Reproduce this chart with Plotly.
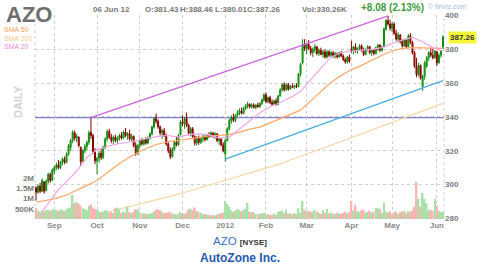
import plotly.graph_objects as go
import pandas as pd

# ---------------- data ----------------
holidays = ["2011-09-05", "2011-11-24", "2011-12-26", "2012-01-02", "2012-01-16",
            "2012-02-20", "2012-04-06", "2012-05-28"]
trading_days = [d.strftime("%Y-%m-%d") for d in pd.bdate_range("2011-08-19", "2012-06-06")
                if d.strftime("%Y-%m-%d") not in holidays]

open_ = [298, 295.5, 299, 296, 301.5, 296.5, 302, 306, 302.5, 308,
         310, 311.5, 310, 313.5, 315, 313, 318, 322, 326, 330.5,
         327.5, 328, 322, 314, 320, 322.5, 325, 331, 329, 319.5,
         314, 315.5, 318.5, 316, 322, 327, 331.5, 328, 326, 328,
         326, 327.5, 329, 327.5, 331, 329, 330, 327, 328.5, 323,
         318.5, 323, 326, 324, 326.5, 324.5, 327.5, 330, 334, 339,
         337.5, 334, 330.5, 332, 329, 324, 320, 316.5, 321, 325,
         323.5, 329.5, 337, 336, 339, 335, 330.5, 333, 328.5, 324.5,
         327.5, 325, 327, 328.5, 326.5, 329.5, 328.5, 330.5, 329, 330,
         326, 327, 323.5, 318, 326, 333, 338, 339.5, 338, 341,
         342.5, 343.5, 342, 345, 346.5, 347.5, 346, 347, 345.5, 347,
         346, 348, 350, 353, 349, 351.5, 348.5, 347.5, 349.5, 347.5,
         352.5, 356, 359, 356, 359, 356.5, 358, 357.5, 358.5, 358,
         365.5, 372, 383, 380.5, 383, 380.5, 378, 380, 381.5, 377.5,
         379.5, 377, 378.5, 375.5, 378.5, 376.5, 378, 376, 377.5, 375.5,
         378, 376, 374, 372.5, 375.5, 380, 379, 381.5, 379, 380.5,
         382, 379.5, 377, 380, 381.5, 378, 379.5, 377.5, 381, 382.5,
         379.5, 381.5, 392, 397, 395, 392.5, 395, 389.5, 386, 388.5,
         384.5, 382, 385.5, 381.5, 388, 384, 378, 370, 365, 370.5,
         358, 364, 370, 375, 378, 376.5, 375, 378.5, 372, 376.5,
         381.43]
high = [299, 300, 301, 303.5, 302, 303, 307, 307, 309.5, 311,
        313, 314.5, 314, 316, 316.5, 319, 324, 327, 332, 332,
        330, 328.5, 322.5, 321, 324, 326, 332, 339.6, 330, 321.5,
        316.5, 320, 321, 323, 328, 332.5, 333, 330, 329, 329.5,
        328.5, 330, 331, 332, 333.5, 331, 332.5, 330, 329, 325,
        324, 327, 327.5, 327, 328, 328.5, 331, 335, 340, 342,
        338.5, 335, 333, 333.5, 330, 325, 322, 322, 326, 328.5,
        330, 338, 341, 340, 342.6, 336, 334, 334, 329, 328.5,
        329, 328, 329.5, 329, 330, 331, 331.5, 331, 331, 330.5,
        328, 327.5, 325, 327, 334, 339, 341, 342, 341.5, 344,
        345, 345.5, 346, 347.5, 349, 348, 348, 348, 347.5, 348.5,
        348.5, 351, 354, 354.5, 352, 352.5, 350.5, 350, 351, 353,
        357, 360, 360.5, 360, 360, 359, 360, 359, 360, 366,
        372, 386, 386, 384, 385.5, 382, 381, 383, 382, 380.5,
        381, 379.5, 380, 379.5, 379.5, 379, 379, 378.5, 378, 378.5,
        379, 377, 375, 376, 377, 385, 382, 383.5, 381, 383,
        383, 381, 380.5, 382.5, 382, 380, 380, 381.5, 383, 383,
        382, 393, 398, 399.8, 397.5, 396, 396, 391.5, 390, 389,
        386, 386.5, 386, 389, 389.5, 385, 379, 375, 372, 371,
        365, 373, 376, 379, 381, 380.5, 379.5, 379, 377.5, 379.5,
        388.46]
low = [290.5, 294.5, 295, 295.5, 294.5, 296, 300.5, 301, 302, 306,
       308.5, 309, 309, 311.5, 312, 312.5, 317, 320, 324.5, 326,
       325, 322, 311, 313, 318.5, 320, 323.5, 327, 318, 312,
       306, 313, 314.5, 315, 321, 325.5, 327, 324.5, 324, 325,
       324, 326, 326.5, 327, 328, 326.5, 326, 325.5, 322, 317,
       317.5, 321.5, 323, 323, 323.5, 324, 326.5, 329, 333, 336,
       333, 329, 327, 328, 323, 318.5, 315, 316, 320, 322.5,
       323, 329, 334.5, 333, 334, 329, 328.5, 327.5, 323, 323,
       323.5, 324, 325, 325.5, 326, 327.5, 328, 327.5, 327, 325,
       323.5, 322.5, 319, 313.5, 325.5, 332, 336, 337, 337, 340,
       341, 341.5, 341.5, 344, 345, 345, 345, 345, 344.5, 345.5,
       345.5, 347, 349, 348, 348, 347.5, 346.5, 347, 346.5, 347,
       352, 355, 355, 355.5, 355.5, 356, 357, 356.5, 357, 357.5,
       364, 371, 379, 377, 379.5, 376.5, 375.5, 378, 376.5, 376,
       376.5, 375, 374.5, 374.5, 375.5, 375, 375, 374.5, 374.5, 375,
       375.5, 373, 371.5, 371.5, 372, 378, 377, 378, 377.5, 379.5,
       378.5, 376, 376.5, 379, 377, 376, 376.5, 377, 379, 378.5,
       378.5, 381, 391, 394, 391, 390, 388.5, 385, 384, 383.5,
       381, 381.5, 380.5, 381, 383, 377, 369, 363.5, 364, 362,
       355.5, 362, 369, 373, 375.5, 374, 374.5, 370, 371.5, 375,
       380.01]
close = [295.5, 299, 296, 302.5, 296, 302, 306, 302.5, 308.5, 310,
         311.5, 310, 313.5, 315, 313, 318, 323, 326, 331, 327.5,
         328.5, 323, 313.5, 320, 322.5, 325, 330.5, 329, 319.5, 314,
         315.5, 318.5, 316, 322, 327, 331.5, 328, 326, 328, 326,
         327.5, 329, 327.5, 331, 329, 330, 327, 328.5, 323, 318.5,
         323, 326, 324, 326.5, 324.5, 327.5, 330, 334, 339, 337.5,
         334, 330.5, 332, 329, 324, 320, 316.5, 321, 325, 323.5,
         329, 337, 336, 339, 335, 330.5, 333, 328.5, 324.5, 327.5,
         325, 327, 328.5, 326.5, 329.5, 328.5, 330.5, 329, 330, 326,
         327, 323.5, 320, 326, 333, 338, 339.5, 338, 341, 342.5,
         343.5, 342, 345, 346.5, 347.5, 346, 347, 345.5, 347, 346,
         348, 350, 353, 349, 351.5, 348.5, 347.5, 349.5, 347.5, 352.5,
         356, 359, 356, 359, 356.5, 358, 357.5, 358.5, 358, 365.5,
         371, 383, 380.5, 383, 380.5, 378, 380, 381.5, 377.5, 379.5,
         377, 378.5, 375.5, 378.5, 376.5, 378, 376, 377.5, 375.5, 378,
         376, 374, 372.5, 375.5, 373, 379, 381.5, 379, 380.5, 382,
         379.5, 377, 380, 381.5, 378, 379.5, 377.5, 381, 382.5, 379.5,
         381.5, 392, 397, 395, 392.5, 395, 389.5, 386, 388.5, 384.5,
         382, 385.5, 381.5, 388, 384, 378, 370, 365, 370.5, 363,
         364, 372, 375, 378, 376.5, 375, 379, 372, 376.5, 379.18,
         387.26]
volume_k = [530, 400, 350, 420, 380, 430, 450, 400, 440, 460,
            430, 390, 440, 460, 380, 470, 520, 560, 1170, 780,
            820, 760, 650, 520, 480, 430, 650, 720, 560, 480,
            450, 380, 330, 360, 420, 400, 310, 340, 300, 520,
            560, 480, 300, 350, 310, 600, 330, 290, 350, 480,
            470, 350, 260, 280, 240, 260, 250, 300, 380, 450,
            480, 420, 350, 280, 300, 320, 350, 260, 240, 220,
            250, 330, 280, 260, 300, 450, 500, 420, 560, 380,
            350, 300, 260, 240, 220, 200, 180, 200, 170, 220,
            250, 280, 300, 880, 750, 600, 420, 350, 400, 480,
            450, 380, 420, 500, 780, 350, 330, 320, 250, 240,
            260, 280, 300, 220, 230, 200, 210, 260, 200, 350,
            380, 400, 300, 460, 250, 270, 220, 290, 250, 520,
            300, 870, 450, 400, 380, 360, 330, 420, 360, 300,
            260, 420, 300, 500, 280, 320, 260, 240, 300, 280,
            250, 300, 350, 280, 330, 870, 420, 700, 380, 350,
            420, 450, 300, 350, 400, 320, 350, 550, 520, 480,
            300, 800, 350, 300, 380, 250, 330, 360, 260, 330,
            380, 400, 300, 380, 350, 420, 600, 1800, 970, 600,
            1270, 970, 770, 420, 450, 400, 970, 650, 400, 350,
            330.26]

# moving averages read every 5th trading day
sma_dates = trading_days[::5]
sma50 = [289.5, 290.5, 291.8, 293.8, 296.5, 299.5, 302.4, 307, 311.5, 315.5,
         319, 321.8, 324, 325.3, 326, 326.8, 327.8, 328.8, 329, 329.5,
         331, 332.8, 334, 336.5, 339, 341.5, 344, 349.5, 355, 360.5,
         364.5, 368, 370.5, 373.5, 376.5, 379, 380.5, 381, 381, 380.7, 380.5]
sma200 = [273.5, 274.5, 275.8, 277, 279.4, 280.8, 282.3, 283.8, 285.2, 286.7,
          288.2, 289.7, 291.1, 292.6, 294.3, 296, 297.8, 299.5, 301.3, 303.2,
          305, 306.8, 308.3, 310.2, 312.2, 314.5, 316.8, 318.9, 321, 323.2,
          325.5, 327.8, 330.2, 332.5, 334.8, 337, 339.2, 341.5, 343.6, 345.8, 348]
sma20 = [279.5, 287, 295.5, 301.5, 308, 316, 320.5, 322.5, 324, 325,
         326, 327.5, 328.5, 329, 328, 329.5, 330, 329.5, 327.5, 328,
         333, 338, 342.5, 346, 348.5, 351.5, 355, 362, 369, 375.5,
         378, 379, 379.5, 380, 381, 383.5, 385.5, 387, 384.5, 381, 379]

# trend lines (index of trading day, price)
resist_idx = [27, 173]
resist_val = [339.6, 399.8]
support_idx = [93, 200]
support_val = [315, 361.5]
level_line = 339.6

month_ticks = ["2011-09-01", "2011-10-03", "2011-11-01", "2011-12-01", "2012-01-03",
               "2012-02-01", "2012-03-01", "2012-04-02", "2012-05-01", "2012-06-01"]
month_labels = ["Sep", "Oct", "Nov", "Dec", "2012", "Feb", "Mar", "Apr", "May", "Jun"]
price_ticks = [280, 300, 320, 340, 360, 380, 400]
vol_ticks = [500, 1000, 1500, 2000]
vol_labels = ["500K", "1M", "1.5M", "2M"]

# ---------------- figure ----------------
W, H = 480, 268
ML, MR, MT, MB = 35, 36, 15, 49
PW, PH = W - ML - MR, H - MT - MB


def pxx(x):
    return (x - ML) / PW


def pxy(y):
    return (H - MB - y) / PH


FONT = "Arial, Liberation Sans, sans-serif"
up = [c >= o for o, c in zip(open_, close)]
vol_colors = ["#a8e2a8" if u else "#ffb4b4" for u in up]

fig = go.Figure()
fig.add_trace(go.Bar(x=trading_days, y=volume_k, marker=dict(color=vol_colors, line=dict(width=0)),
                     yaxis="y2", showlegend=False, hoverinfo="skip"))
fig.add_trace(go.Candlestick(
    x=trading_days, open=open_, high=high, low=low, close=close,
    increasing=dict(line=dict(color="#0f8a0f", width=1), fillcolor="#2ccc2c"),
    decreasing=dict(line=dict(color="#8a0000", width=1), fillcolor="#c01818"),
    whiskerwidth=0, showlegend=False, hoverinfo="skip"))
fig.add_trace(go.Scatter(x=sma_dates, y=sma200, mode="lines", line=dict(color="#f6d7a4", width=1.2),
                         showlegend=False, hoverinfo="skip"))
fig.add_trace(go.Scatter(x=sma_dates, y=sma50, mode="lines", line=dict(color="#ffa767", width=1.2),
                         showlegend=False, hoverinfo="skip"))
fig.add_trace(go.Scatter(x=sma_dates, y=sma20, mode="lines", line=dict(color="#f3a6e8", width=1.2),
                         showlegend=False, hoverinfo="skip"))
fig.add_trace(go.Scatter(x=[trading_days[i] for i in resist_idx], y=resist_val, mode="lines",
                         line=dict(color="#cc66dd", width=1.3), showlegend=False, hoverinfo="skip"))
fig.add_trace(go.Scatter(x=[trading_days[i] for i in support_idx], y=support_val, mode="lines",
                         line=dict(color="#4aaee0", width=1.3), showlegend=False, hoverinfo="skip"))

fig.add_shape(type="line", xref="paper", yref="y", x0=0, x1=1, y0=level_line, y1=level_line,
              line=dict(color="#7f7fd0", width=1.2), layer="below")
for xe in (0, 1):
    fig.add_shape(type="line", xref="paper", yref="paper", x0=xe, x1=xe, y0=0, y1=1,
                  line=dict(color="#cfcfcf", width=1, dash="dot"), layer="below")

ann = []


def text(t, x, y, size, color, xanchor="left", bold=False, **kw):
    ann.append(dict(text=t, x=pxx(x), y=pxy(y), xref="paper", yref="paper", xanchor=xanchor,
                    yanchor="middle", showarrow=False,
                    font=dict(family=FONT, size=size, color=color, weight="bold" if bold else "normal"), **kw))


text("AZO", 4, 14.5, 22, "#6f6f6f", bold=True)
text("SMA 50", 3, 30.0, 7, "#ffa060", borderpad=0)
text("SMA 200", 3, 38.3, 7, "#efc98f", borderpad=0)
text("SMA 20", 3, 46.6, 7, "#f08ae0", borderpad=0)
text("06 Jun 12", 91, 9, 8, "#777777", bold=True)
text("O:381.43", 143, 9, 8, "#777777", bold=True)
text("H:388.46", 178, 9, 8, "#777777", bold=True)
text("L:380.01", 213, 9, 8, "#777777", bold=True)
text("C:387.26", 245, 9, 8, "#777777", bold=True)
text("Vol:330.26K", 300, 9, 8, "#777777", bold=True)
text("+8.08 (2.13%)", 392, 8, 10, "#3c9c3c", xanchor="center", bold=True)
text("© finviz.com", 447, 7, 7, "#a8bcd8", xanchor="center")
text("DAILY", 18, 102, 11, "#d2d2d2", xanchor="center", bold=True, textangle=-90)
text("AZO <span style='font-size:8px;color:#333333'><b>[NYSE]</b></span>", 240, 241, 11.5, "#3a6fc4",
     xanchor="center")
text("AutoZone Inc.", 240, 258, 12, "#2459b3", xanchor="center", bold=True)
ann.append(dict(text="<b>387.26</b>", x=pxx(448), y=close[-1], xref="paper", yref="y", xanchor="left",
                yanchor="middle", showarrow=False, bgcolor="#f7f73a", borderpad=1,
                font=dict(family=FONT, size=8, color="#333333")))

tickfont = dict(family=FONT, size=8, color="#7a7a7a", weight="bold")
fig.update_layout(
    width=W, height=H, margin=dict(l=ML, r=MR, t=MT, b=MB),
    paper_bgcolor="white", plot_bgcolor="white", showlegend=False, hovermode=False,
    bargap=0.2, annotations=ann,
    xaxis=dict(type="category", range=[-0.5, len(trading_days) - 0.5], tickvals=month_ticks,
               ticktext=month_labels, showgrid=True, gridcolor="#cfcfcf", griddash="dot", gridwidth=1,
               zeroline=False, showline=False, ticks="", tickfont=dict(family=FONT, size=8, color="#8a8a8a",
                                                                         weight="bold"),
               rangeslider=dict(visible=False), fixedrange=True),
    yaxis=dict(side="right", range=[279.6, 400.3], tickvals=price_ticks, showgrid=True,
               gridcolor="#cfcfcf", griddash="dot", gridwidth=1, zeroline=False, showline=False,
               ticks="", tickfont=tickfont, fixedrange=True),
    yaxis2=dict(overlaying="y", side="left", range=[0, 9900], tickvals=vol_ticks, ticktext=vol_labels,
                showgrid=False, zeroline=False, showline=False, ticks="", tickfont=tickfont,
                fixedrange=True),
)
fig.write_html("out.html")
